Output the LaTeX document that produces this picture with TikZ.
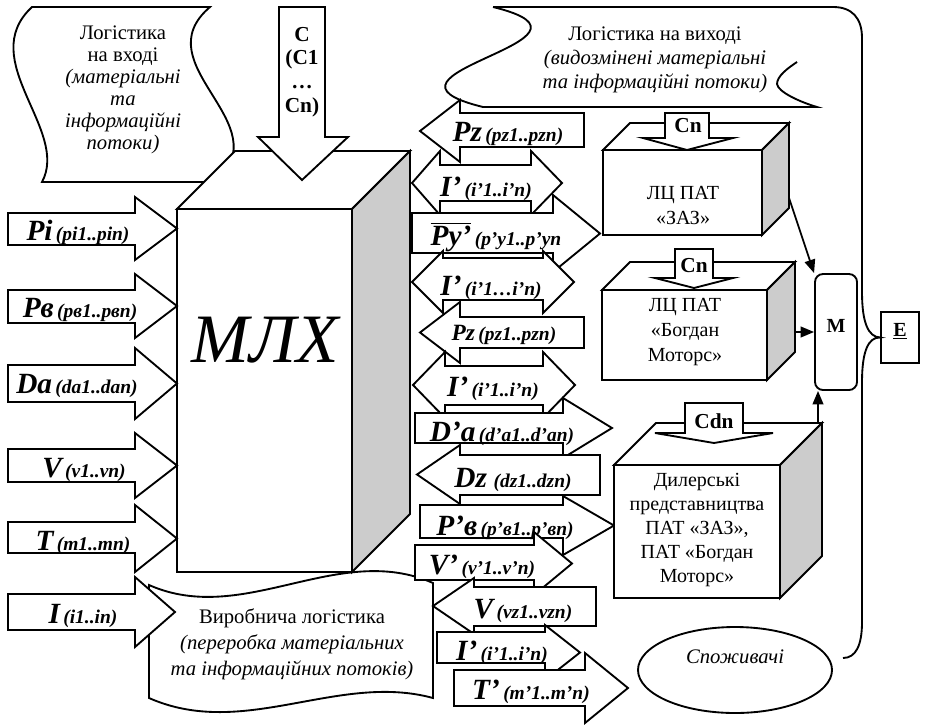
\documentclass[tikz,border=0pt]{standalone}
\usepackage{fontspec}
\setmainfont{Liberation Serif}
\usetikzlibrary{arrows.meta,fit,shapes.geometric}

% label fonts inside the block arrows
\newcommand\BigL[1]{{\fontsize{22}{23}\selectfont\bfseries\itshape #1}}
\newcommand\MidL[1]{{\fontsize{17.5}{18}\selectfont\bfseries\itshape #1}}
\newcommand\SmL[1]{{\fontsize{14.6}{15}\selectfont\bfseries\itshape #1}}

% right-pointing block arrow: left, head base, tip, shaft top, shaft bottom, head top, head bottom
\newcommand\ArrR[7]{%
  \filldraw[blk] (#1,#4) -- (#2,#4) -- (#2,#6) -- (#3,{(#6+#7)/2}) -- (#2,#7) -- (#2,#5) -- (#1,#5) -- cycle;}
% left-pointing block arrow: tip, head base, right, shaft top, shaft bottom, head top, head bottom
\newcommand\ArrL[7]{%
  \filldraw[blk] (#1,{(#6+#7)/2}) -- (#2,#6) -- (#2,#4) -- (#3,#4) -- (#3,#5) -- (#2,#5) -- (#2,#7) -- cycle;}
% two-headed block arrow: left tip, left base, right base, right tip, shaft top, shaft bottom, head top, head bottom
\newcommand\ArrD[8]{%
  \filldraw[blk] (#1,{(#7+#8)/2}) -- (#2,#7) -- (#2,#5) -- (#3,#5) -- (#3,#7) -- (#4,{(#7+#8)/2})
    -- (#3,#8) -- (#3,#6) -- (#2,#6) -- (#2,#8) -- cycle;}
% downward block arrow: shaft left, shaft right, top, head base, head left, head right, tip
\newcommand\ArrDown[7]{%
  \filldraw[blk] (#1,#3) -- (#2,#3) -- (#2,#4) -- (#6,#4) -- ({(#1+#2)/2},#7) -- (#5,#4) -- (#1,#4) -- cycle;}
% box in oblique projection: front x1,y1,x2,y2 and depth
\newcommand\drawcube[5]{%
  \filldraw[blk] (#1,#2) -- ({#1+#5},{#2-#5}) -- ({#3+#5},{#2-#5}) -- (#3,#2) -- cycle;
  \filldraw[blk, fill=black!20] (#3,#2) -- ({#3+#5},{#2-#5}) -- ({#3+#5},{#4-#5}) -- (#3,#4) -- cycle;
  \filldraw[blk] (#1,#2) rectangle (#3,#4);}

\begin{document}
\begin{tikzpicture}[x=0.75pt, y=-0.75pt,
  blk/.style={draw, fill=white, line width=1.4pt, line join=miter},
  edge/.style={draw, line width=1.4pt},
  conn/.style={draw, line width=1.3pt, -{Triangle[length=10pt,width=8pt]}},
  lbl/.style={anchor=base, inner sep=0pt},
  scrolltext/.style={align=center, inner sep=0pt},
  boxtext/.style={align=center, inner sep=0pt, font=\fontsize{15}{18.75}\selectfont},
  cnlabel/.style={inner sep=0pt, font=\fontsize{16}{17}\selectfont\bfseries}]
\useasboundingbox (0,0) rectangle (938,725);

% ---------- incoming logistics scroll ----------
\filldraw[blk] (32,7) -- (210,7) .. controls (142,65) and (282,124) .. (215,182)
  -- (42,182) .. controls (70,130) and (-25,60) .. cycle;
\node[scrolltext, font=\fontsize{15.5}{16.5}\selectfont] (inlog) at (123,90)
  {Логістика\\на вході\\\textit{(матеріальні}\\\textit{та}\\\textit{інформаційні}\\\textit{потоки)}};

% ---------- outgoing logistics scroll and consumer brace ----------
\node[draw, line width=1.4pt, fit={(881,312) (919,363)}, inner sep=0pt,
  font=\fontsize{15}{15}\selectfont\bfseries] (E) {\underline{E}};
\node[draw, ellipse, line width=1.4pt, minimum width=145.5pt, minimum height=64.5pt,
  inner sep=0pt] (cons) at (735,670) {};
\node[inner sep=0pt, font=\fontsize{15.5}{16}\selectfont\itshape] (constxt) at (735,657) {Споживачі};
\coordinate (braceend) at (843,658);
\draw[edge] (493,7) -- (833,7) .. controls (852,7) and (862,18) .. (862,38) -- (862,292)
  .. controls (862,322) and (868,337) .. (E.west)
  .. controls (868,337) and (862,352) .. (862,382) -- (862,622)
  .. controls (862,645) and (856,658) .. (braceend);
\draw[edge] (493,7) .. controls (628,40) and (348,74) .. (483,107) -- (817,107)
  .. controls (800,102) and (778,92) .. (777,84) .. controls (777,76) and (788,68) .. (797,62);
\node[scrolltext, font=\fontsize{15.5}{18}\selectfont] (outlog) at (655,60)
  {Логістика на виході\\\textit{(видозмінені матеріальні}\\\textit{та інформаційні потоки)}};

% ---------- production logistics scroll ----------
\filldraw[blk] (149,585) .. controls (244,627) and (338,541) .. (433,583) -- (433,698)
  .. controls (338,672) and (244,740) .. (149,698) -- cycle;
\node[scrolltext, font=\fontsize{15.5}{19.5}\selectfont] (prodlog) at (292,644)
  {Виробнича логістика\\\textit{(переробка матеріальних}\\\textit{та інформаційних потоків)}};

% ---------- main logistics complex ----------
\drawcube{177}{209}{352}{572}{58}
\node[inner sep=0pt, font=\fontsize{52}{52}\selectfont\itshape] (mlx) at (265,340) {МЛХ};

% capital input from above
\ArrDown{279}{325}{7}{137}{258}{348}{180}
\node[align=center, inner sep=0pt, font=\fontsize{16}{17.8}\selectfont\bfseries] (cap) at (302,72)
  {C\\(C1\\…\\Cn)};

% ---------- input flows ----------
\ArrR{8}{135}{177}{213}{245}{197}{260}
\node[lbl] (pi) at (78,240) {\BigL{Pi} \SmL{(pi1..pin)}};
\ArrR{8}{135}{177}{290}{323}{274}{338}
\node[lbl] (pv) at (80,317) {\BigL{Pв} \SmL{(pв1..pвn)}};
\ArrR{8}{135}{177}{365}{402}{348}{419}
\node[lbl] (da) at (77,393) {\BigL{Da} \SmL{(da1..dan)}};
\ArrR{8}{135}{177}{449}{482}{433}{498}
\node[lbl] (v) at (84,477) {\BigL{V} \SmL{(v1..vn)}};
\ArrR{8}{135}{177}{522}{553}{505}{572}
\node[lbl] (t) at (83,550) {\BigL{T} \SmL{(m1..mn)}};
\ArrR{8}{135}{175}{594}{630}{577}{647}
\node[lbl] (i) at (83,623) {\BigL{I} \SmL{(i1..in)}};

% ---------- output and feedback flows ----------
\ArrL{420}{460}{584}{113}{147}{100}{162}
\node[lbl] (pzA) at (508,141) {\BigL{Pz} \SmL{(pz1..pzn)}};
\ArrD{412}{440}{531}{562}{165}{201}{151}{215}
\node[lbl] (iA) at (486,196) {\BigL{I’} \SmL{(i’1..i’n)}};
\ArrR{412}{553}{600}{213}{253}{195}{272}
\node[lbl] (py) at (496,245) {$\overline{\hbox{\BigL{Py’}}}$ \SmL{(p’y1..p’yn}};
\ArrD{412}{443}{543}{574}{258}{300}{251}{313}
\node[lbl] (iB) at (491,295) {\BigL{I’} \SmL{(i’1…i’n)}};
\ArrL{420}{460}{584}{317}{348}{302}{363}
\node[lbl] (pzB) at (504,340) {\MidL{Pz} \SmL{(pz1..pzn)}};
\ArrD{413}{445}{543}{575}{366}{405}{352}{418}
\node[lbl] (iC) at (493,396) {\BigL{I’} \SmL{(i’1..i’n)}};
\ArrR{415}{563}{612}{413}{443}{398}{458}
\node[lbl] (daB) at (502,441) {\BigL{D’a} \SmL{(d’a1..d’an)}};
\ArrL{417}{460}{600}{455}{495}{445}{504}
\node[lbl] (dz) at (513,487) {\BigL{Dz}\ \ \SmL{(dz1..dzn)}};
\ArrR{420}{563}{614}{505}{538}{496}{555}
\node[lbl] (pvB) at (505,535) {\BigL{P’в} \SmL{(p’в1..p’вn)}};
\ArrR{415}{534}{572}{545}{580}{532}{595}
\node[lbl] (vB) at (482,574) {\BigL{V’} \SmL{(v’1..v’n)}};
\ArrL{433}{474}{596}{587}{626}{578}{634}
\node[lbl] (vz) at (523,618) {\BigL{V} \SmL{(vz1..vzn)}};
\ArrR{437}{545}{580}{632}{663}{625}{680}
\node[lbl] (iD) at (502,660) {\BigL{I’} \SmL{(i’1..i’n)}};
\ArrR{454}{585}{628}{670}{706}{653}{723}
\node[lbl] (tB) at (531,699) {\BigL{T’} \SmL{(m’1..m’n)}};

% ---------- logistics centres and dealers ----------
\drawcube{603}{150}{762}{235}{27}
\ArrDown{665}{709}{113}{138}{643}{733}{150}
\node[cnlabel] (cn1) at (688,126) {Cn};
\node[boxtext] (zaz) at (683,205) {ЛЦ ПАТ\\«ЗАЗ»};

\drawcube{602}{290}{767}{380}{28}
\ArrDown{675}{713}{249}{278}{655}{733}{288}
\node[cnlabel] (cn2) at (694,266) {Cn};
\node[boxtext] (bogdan) at (685,332) {ЛЦ ПАТ\\«Богдан\\Моторс»};

\drawcube{614}{465}{780}{598}{42}
\ArrDown{685}{743}{403}{433}{655}{773}{443}
\node[cnlabel] (cdn) at (714,421) {Cdn};
\node[boxtext, font=\fontsize{15}{18}\selectfont] (dealers) at (697,530)
  {Дилерські\\представництва\\ПАТ «ЗАЗ»,\\ПАТ «Богдан\\Моторс»};

% ---------- marketing node ----------
\node[draw, line width=1.4pt, rounded corners=6pt, fit={(815,274) (857,390)}, inner sep=0pt,
  font=\fontsize{15}{15}\selectfont\bfseries] (M) {M};
\coordinate (zazout) at (789,198);
\coordinate (bogout) at (795,332);
\coordinate (dealout) at (818,422);
\draw[conn] (zazout) -- (M.north west);
\draw[conn] (bogout) -- (M.west);
\draw[conn] (dealout) -- (dealout |- M.south);
\end{tikzpicture}
\end{document}
